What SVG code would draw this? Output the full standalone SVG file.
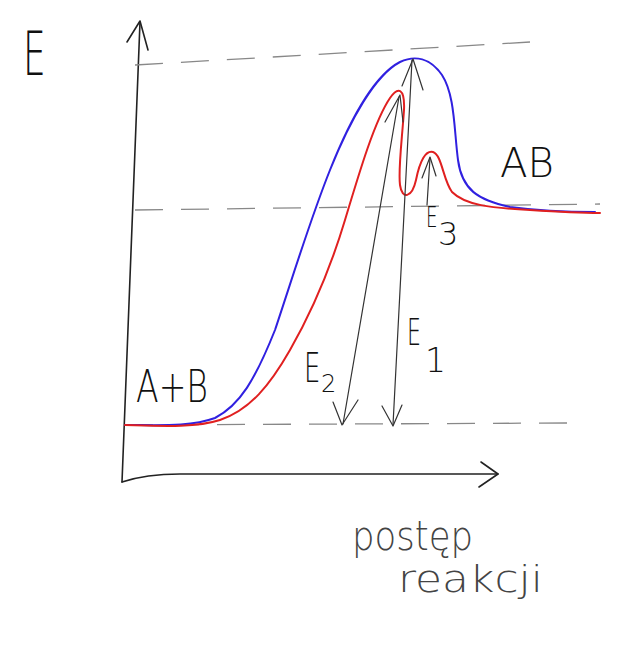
<svg xmlns="http://www.w3.org/2000/svg" width="640" height="651" viewBox="0 0 640 651">
<style>
.ax{fill:none;stroke:#222;stroke-width:1.6;stroke-linecap:round;stroke-linejoin:round}
.ar{fill:none;stroke:#333;stroke-width:1.2;stroke-linecap:round;stroke-linejoin:round}
.dash{fill:none;stroke:#888;stroke-width:1.3;stroke-dasharray:28 18}
.blue{fill:none;stroke:#3020e0;stroke-width:2;stroke-linecap:round}
.red{fill:none;stroke:#e02020;stroke-width:2;stroke-linecap:round}
.t{font-family:"DejaVu Sans","Liberation Sans",sans-serif;fill:#111;font-weight:300}
.hw{font-family:"DejaVu Sans","Liberation Sans",sans-serif;fill:#444;font-weight:200}
</style>
<rect width="640" height="651" fill="#fff"/>
<g id="axes">
<path class="ax" d="M122,482 L140,22"/>
<path class="ax" d="M127,42 L140,21 L148,50"/>
<path class="ax" d="M122,482 C140,476 160,474 180,474 L498,474"/>
<path class="ax" d="M481,462 L498,474 L479,487"/>
</g>
<g id="levels">
<path class="dash" d="M135,65 L530,42"/>
<path class="dash" d="M135,210 L600,204"/>
<path class="dash" d="M125,425 L570,423"/>
</g>
<g id="curves">
<path class="blue" d="M125,425 C160,425 190,427 215,418 C240,405 255,380 275,330 C295,270 310,220 330,170 C350,120 375,75 400,62 C415,55 430,58 442,75 C455,95 454,130 458,160 C462,190 478,200 510,207 C540,211 570,212 595,212"/>
<path class="red" d="M125,425 C160,426 195,428 220,420 C250,410 270,385 290,350 C310,315 330,270 345,220 C360,170 375,120 390,98 C398,86 405,88 404,110 C402,140 398,170 400,185 C402,200 412,198 416,180 C420,160 426,150 433,152 C442,155 443,180 452,192 C465,205 490,208 530,210 C560,212 585,213 600,213"/>
</g>
<g id="connectors">
<path class="ar" d="M393,425 L412,60"/>
<path class="ar" d="M382,406 L393,426 L402,405"/>
<path class="ar" d="M402,86 L413,59 L423,90"/>
<path class="ar" d="M343,424 L399,97"/>
<path class="ar" d="M333,402 L342,425 L358,400"/>
<path class="ar" d="M385,122 L400,95 L403,122"/>
<path class="ar" d="M427,205 L430,158"/>
<path class="ar" d="M422,178 L430,157 L436,176"/>
</g>
<g id="labels">
<text class="t" transform="translate(23,75) scale(0.6,1)" font-size="60">E</text>
<text class="t" x="136" y="402" font-size="44" textLength="72" lengthAdjust="spacingAndGlyphs">A+B</text>
<text class="t" x="500" y="177" font-size="40" textLength="54" lengthAdjust="spacingAndGlyphs">AB</text>
<text class="t" transform="translate(304,382) scale(0.65,1)" font-size="40">E</text>
<text class="t" x="321" y="392" font-size="24">2</text>
<text class="t" transform="translate(407,345) scale(0.6,1)" font-size="37">E</text>
<text class="t" x="425" y="372" font-size="33">1</text>
<text class="t" transform="translate(426,227) scale(0.65,1)" font-size="28">E</text>
<text class="t" x="438" y="245" font-size="32">3</text>
<text class="hw" x="352" y="550" font-size="40" textLength="121" lengthAdjust="spacingAndGlyphs">postęp</text>
<text class="hw" x="398" y="592" font-size="38" textLength="145" lengthAdjust="spacingAndGlyphs">reakcji</text>
</g>
</svg>
